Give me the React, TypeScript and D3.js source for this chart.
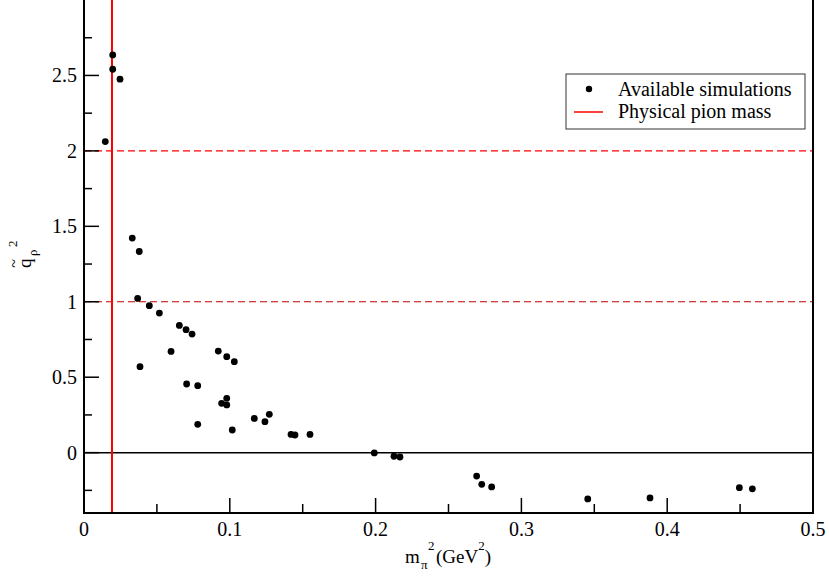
import React from "react";
import * as d3 from "d3";

const xVals = [
  0.0197, 0.0197, 0.0247, 0.0146,
  0.0331, 0.0379, 0.0368, 0.0448, 0.0517, 0.0654, 0.070, 0.0741, 0.0597, 0.0384,
  0.0921, 0.0979, 0.1031, 0.0704, 0.0780, 0.0944, 0.0979, 0.0979, 0.0780, 0.1017,
  0.1168, 0.1241, 0.1271, 0.142, 0.1447,
  0.155, 0.1991, 0.2126, 0.2167,
  0.2693, 0.2728, 0.2796, 0.3455, 0.3882, 0.4495, 0.4584,
];
const yVals = [
  2.636, 2.541, 2.475, 2.062,
  1.422, 1.333, 1.022, 0.974, 0.925, 0.843, 0.815, 0.786, 0.671, 0.570,
  0.673, 0.636, 0.603, 0.455, 0.444, 0.327, 0.360, 0.316, 0.188, 0.150,
  0.227, 0.205, 0.254, 0.121, 0.117,
  0.121, -0.002, -0.024, -0.029,
  -0.155, -0.210, -0.227, -0.307, -0.300, -0.232, -0.240,
];
const physicalPionMass2 = 0.0192;
const xMajorTicks = [0, 0.1, 0.2, 0.3, 0.4, 0.5];
const xMinorTicks = [0.05, 0.15, 0.25, 0.35, 0.45];
const yMajorTicks = [0, 0.5, 1, 1.5, 2, 2.5];
const yMinorTicks = [-0.25, 0.25, 0.75, 1.25, 1.75, 2.25, 2.75];
const legendLabels = ["Available simulations", "Physical pion mass"];

const FONT = "'Liberation Serif', 'DejaVu Serif', serif";

export default function App() {
  const left = 84, right = 813, top = 0, bottom = 513;
  const x = d3.scaleLinear().domain([0, 0.5]).range([left, right]);
  const y = d3.scaleLinear().domain([-0.4, 3]).range([bottom, top]);
  const fmt = (v: number) => (v === 0 ? "0" : String(v));

  return (
    <svg width={829} height={578} style={{ position: "absolute", left: 0, top: 0, background: "#fff" }} fontFamily={FONT}>
      <rect x={0} y={0} width={829} height={578} fill="#fff" />
      {/* reference lines */}
      <line x1={x(0)} x2={x(0.5)} y1={y(2)} y2={y(2)} stroke="#ff0000" strokeWidth={1.2} strokeDasharray="7,4" />
      <line x1={x(0)} x2={x(0.5)} y1={y(1)} y2={y(1)} stroke="#c00000" strokeWidth={1} strokeDasharray="7,4" />
      <line x1={x(0)} x2={x(0.5)} y1={y(0)} y2={y(0)} stroke="#000" strokeWidth={1.5} />
      <line x1={x(physicalPionMass2)} x2={x(physicalPionMass2)} y1={y(-0.4)} y2={y(3) - 2} stroke="#ff0000" strokeWidth={2} />
      {/* frame */}
      <path d={`M${left},${top - 3}V${bottom}H${right}V${top - 3}`} fill="none" stroke="#000" strokeWidth={2} />
      {/* x ticks */}
      {xMajorTicks.map((t) => (
        <g key={"xm" + t}>
          <line x1={x(t)} x2={x(t)} y1={bottom} y2={bottom - 15} stroke="#000" strokeWidth={1.5} />
          <text x={x(t)} y={bottom + 23} fontSize={20} textAnchor="middle" fill="#000">{fmt(t)}</text>
        </g>
      ))}
      {xMinorTicks.map((t) => (
        <line key={"xn" + t} x1={x(t)} x2={x(t)} y1={bottom} y2={bottom - 9} stroke="#000" strokeWidth={1.5} />
      ))}
      {/* y ticks */}
      {yMajorTicks.map((t) => (
        <g key={"ym" + t}>
          <line x1={left} x2={left + 15} y1={y(t)} y2={y(t)} stroke="#000" strokeWidth={1.5} />
          <text x={left - 7} y={y(t) + 7} fontSize={20} textAnchor="end" fill="#000">{fmt(t)}</text>
        </g>
      ))}
      {yMinorTicks.map((t) => (
        <line key={"yn" + t} x1={left} x2={left + 8} y1={y(t)} y2={y(t)} stroke="#000" strokeWidth={1.5} />
      ))}
      {/* data */}
      {xVals.map((v, i) => (
        <circle key={i} cx={x(v)} cy={y(yVals[i])} r={3.4} fill="#000" />
      ))}
      {/* legend */}
      <rect x={566} y={74} width={239} height={55} fill="#fff" stroke="#333" strokeWidth={1} />
      <circle cx={589} cy={89} r={3.2} fill="#000" />
      <text x={618} y={96} fontSize={20} fill="#000">{legendLabels[0]}</text>
      <line x1={574} x2={603} y1={112} y2={112} stroke="#ff0000" strokeWidth={1.5} />
      <text x={618} y={118} fontSize={20} fill="#000">{legendLabels[1]}</text>
      {/* x label */}
      <text y={563} fontSize={19} fill="#000">
        <tspan x={405}>m</tspan>
        <tspan x={421} y={569} fontSize={13}>π</tspan>
        <tspan x={428} y={550} fontSize={13}>2</tspan>
        <tspan x={436} y={563}>(GeV</tspan>
        <tspan y={550} fontSize={13}>2</tspan>
        <tspan y={563}>)</tspan>
      </text>
      {/* y label */}
      <g transform="translate(31,268) rotate(-90)">
        <text x={0} y={0} fontSize={19} fill="#000">q</text>
        <text x={12} y={6} fontSize={13} fill="#000">ρ</text>
        <text x={21} y={-14} fontSize={13} fill="#000">2</text>
        <text x={4.5} y={-12} fontSize={16} textAnchor="middle" fill="#000">~</text>
      </g>
    </svg>
  );
}
